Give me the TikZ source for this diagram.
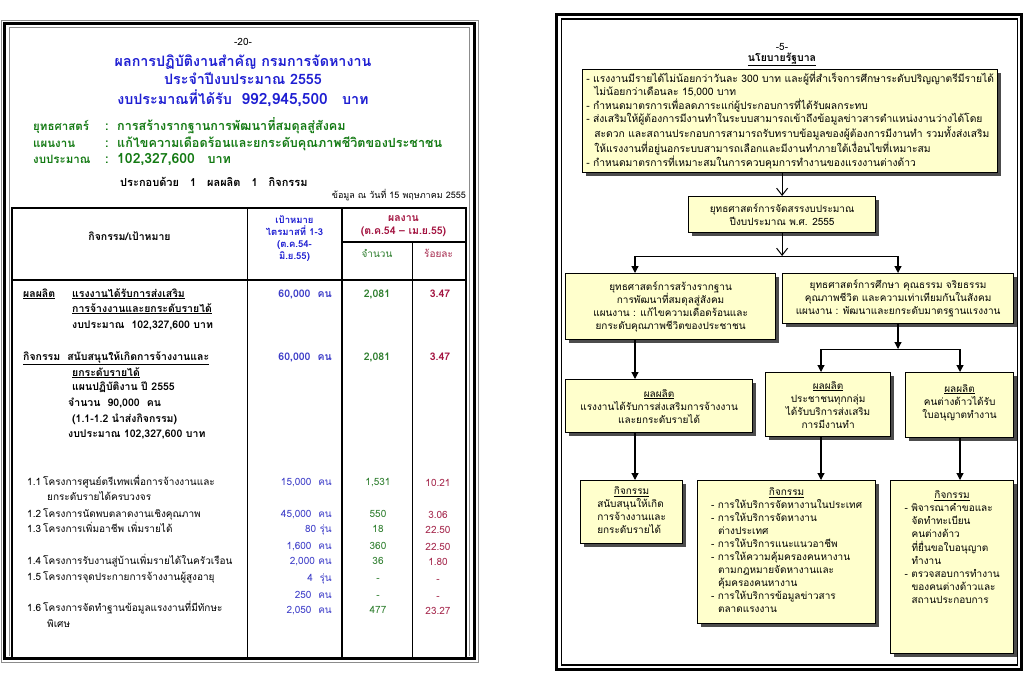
\documentclass[tikz,border=0pt]{standalone}
\usepackage{fontspec}
\setmainfont[Script=Thai]{Loma}
\usepackage{tikz}
\usetikzlibrary{arrows.meta,positioning,shadows,calc}
\definecolor{TtlBlue}{HTML}{1E1ED2}
\definecolor{PlnGreen}{HTML}{137A13}
\definecolor{ResRed}{HTML}{A3123F}
\definecolor{ValBlue}{HTML}{3C3CC8}
\definecolor{ValGreen}{HTML}{2C7D2C}
\definecolor{ValRed}{HTML}{A5274C}
\definecolor{BoxFill}{HTML}{FFFFCC}
\definecolor{FrmGray}{HTML}{8C8C8C}

\begin{document}
\begin{tikzpicture}[x=1pt,y=-1pt,
  txt/.style={inner sep=0pt,anchor=base west,font=\fontsize{10}{13}\selectfont},
  txtb/.style={inner sep=0pt,anchor=base west,font=\fontsize{10.5}{13}\selectfont\bfseries},
  ctr/.style={inner sep=0pt,anchor=base,font=\fontsize{10}{13}\selectfont},
  ctrb/.style={inner sep=0pt,anchor=base,font=\fontsize{10.5}{13}\selectfont\bfseries},
  ttl/.style={inner sep=0pt,anchor=base,font=\fontsize{14.3}{17}\selectfont\bfseries,text=TtlBlue},
  pln/.style={inner sep=0pt,anchor=base west,font=\fontsize{11.5}{14}\selectfont\bfseries,text=PlnGreen},
  plv/.style={pln,font=\fontsize{12.6}{15}\selectfont\bfseries},
  bx/.style={draw,line width=1.2pt,fill=BoxFill,inner sep=0pt,anchor=north west,align=center,
    font=\fontsize{10}{13}\selectfont,
    drop shadow={shadow xshift=3pt,shadow yshift=-3pt,fill=black!70,opacity=1}},
  arr/.style={-{Triangle[length=7pt,width=7pt]},line width=1.2pt},
  oarr/.style={-{Straight Barb[length=7pt,width=11pt]},line width=1pt},
  hline/.style={line width=0.8pt}]
\useasboundingbox (0,0) rectangle (1024,680);
\fill[white] (0,0) rectangle (1024,680);

% ---- left page: frame and table
\draw[FrmGray,line width=1pt] (1.5,20.5) rectangle (478.5,662);
\draw[line width=3pt] (4.5,23.5) rectangle (474,658.5);
\draw[FrmGray,line width=0.8pt] (9,656) -- (9,27) -- (469.5,27) -- (469.5,656);
\draw[line width=2pt] (11.5,208) rectangle (465.5,658);
\draw[line width=1.6pt] (247.5,208) -- (247.5,658) (342,208) -- (342,658) (412.5,242) -- (412.5,658);
\draw[line width=1.6pt] (11.5,280) -- (465.5,280) (342,242) -- (465.5,242);

\node[ctr] (pgno) at (243,45) {-20-};
\node[ttl] (ttl1) at (243,66) {ผลการปฏิบัติงานสำคัญ กรมการจัดหางาน};
\node[ttl] (ttl2) at (243,84) {ประจำปีงบประมาณ 2555};
\node[ttl] (ttl3) at (243,104) {งบประมาณที่ได้รับ\ \ {\fontsize{15.5}{18}\selectfont 992,945,500}\quad บาท};

\node[pln] (stl) at (33,130) {ยุทธศาสตร์};
\node[plv] (stc) at (105,130) {:\ \ การสร้างรากฐานการพัฒนาที่สมดุลสู่สังคม};
\node[pln] (pll) at (33,147) {แผนงาน};
\node[plv] (plc) at (105,147) {:\ \ แก้ไขความเดือดร้อนและยกระดับคุณภาพชีวิตของประชาชน};
\node[pln] (bgl) at (33,163) {งบประมาณ};
\node[plv] (bgc) at (105,163) {:\ \ {\fontsize{14}{16}\selectfont 102,327,600}\quad บาท};
\node[txtb,font=\fontsize{11}{13}\selectfont\bfseries] (cmp) at (120,186) {ประกอบด้วย\quad 1\quad ผลผลิต\quad 1\quad กิจกรรม};
\node[txt,anchor=base east,font=\fontsize{9}{10}\selectfont] (asof) at (466,198) {ข้อมูล ณ วันที่ 15 พฤษภาคม 2555};

% table header
\node[ctrb] (h1) at (129.5,240) {กิจกรรม/เป้าหมาย};
\node[inner sep=0pt,align=center,font=\fontsize{9.5}{12}\selectfont\bfseries,text=TtlBlue] (h2) at (294.5,239) {เป้าหมาย\\ไตรมาสที่ 1-3\\(ต.ค.54-\\มิ.ย.55)};
\node[inner sep=0pt,align=center,font=\fontsize{10.5}{12.5}\selectfont\bfseries,text=ResRed] (h3) at (403.5,226) {ผลงาน\\(ต.ค.54 – เม.ย.55)};
\node[ctr,text=ValGreen] (h3a) at (377,257) {จำนวน};
\node[ctr,text=ValRed] (h3b) at (438.5,257) {ร้อยละ};

% output and activity
\node[txtb] (o1) at (23,297) {\makebox[49pt][l]{\underline{ผลผลิต}}\underline{แรงงานได้รับการส่งเสริม}};
\node[txtb] (o2) at (72,312) {\underline{การจ้างงานและยกระดับรายได้}};
\node[txtb] (o3) at (72,328) {งบประมาณ\ \ 102,327,600 บาท};
\node[txtb] (k1) at (23,360) {\underline{กิจกรรม\ \ สนับสนุนให้เกิดการจ้างงานและ}};
\node[txtb] (k2) at (72,376) {\underline{ยกระดับรายได้}};
\node[txtb] (k3) at (72,390) {แผนปฏิบัติงาน ปี 2555};
\node[txtb] (k4) at (68,406) {จำนวน\ \ 90,000\ \ คน};
\node[txtb] (k5) at (72,422) {(1.1-1.2 นำส่งกิจกรรม)};
\node[txtb] (k6) at (68,437) {งบประมาณ 102,327,600 บาท};
\foreach \yy [count=\i] in {297,360}{
  \node[txtb,anchor=base east,text=ValBlue] (tg\i) at (332,\yy) {60,000\ \ คน};
  \node[ctrb,text=ValGreen] (nm\i) at (377,\yy) {2,081};
  \node[ctrb,text=ResRed] (pc\i) at (440,\yy) {3.47};
}

% projects 1.1 - 1.6
\node[txt] (p1) at (27,485) {\makebox[16pt][l]{1.1}โครงการศูนย์ตรีเทพเพื่อการจ้างงานและ};
\node[txt] (p1b) at (47,500) {ยกระดับรายได้ครบวงจร};
\node[txt] (p2) at (27,517) {\makebox[16pt][l]{1.2}โครงการนัดพบตลาดงานเชิงคุณภาพ};
\node[txt] (p3) at (27,532) {\makebox[16pt][l]{1.3}โครงการเพิ่มอาชีพ เพิ่มรายได้};
\node[txt] (p4) at (27,564) {\makebox[16pt][l]{1.4}โครงการรับงานสู่บ้านเพิ่มรายได้ในครัวเรือน};
\node[txt] (p5) at (27,580) {\makebox[16pt][l]{1.5}โครงการจุดประกายการจ้างงานผู้สูงอายุ};
\node[txt] (p6) at (27,611) {\makebox[16pt][l]{1.6}โครงการจัดทำฐานข้อมูลแรงงานที่มีทักษะ};
\node[txt] (p6b) at (47,627) {พิเศษ};
\foreach \yy/\tg/\nm/\pc [count=\i] in {485/{15,000\ \ คน}/{1,531}/10.21, 517/{45,000\ \ คน}/550/3.06,
  532/{80 รุ่น}/18/22.50, 549/{1,600\ \ คน}/360/22.50, 564/{2,000 คน}/36/1.80,
  581/{4\ \ รุ่น}/-/-, 598/{250\ \ คน}/-/-, 613/{2,050\ \ คน}/477/23.27}{
  \node[txt,anchor=base east,text=ValBlue] (vt\i) at (332,\yy) {\tg};
  \node[ctr,text=ValGreen] (vn\i) at (378,\yy) {\nm};
  \node[ctr,text=ValRed] (vp\i) at (438,\yy+1) {\pc};
}

% ---- right page: frame and chart
\draw[line width=3pt] (556.5,14.5) rectangle (1021,669.5);
\draw[line width=1.5pt] (561.5,19) rectangle (1017.5,665);
\node[ctr] (pg5) at (782,50) {-5-};
\node[ctrb] (gov) at (782,61) {\underline{นโยบายรัฐบาล}};

\node[bx,minimum width=415pt,minimum height=103pt,font=\fontsize{10.3}{12.8}\selectfont] (pol) at (582,69) {\begin{tabular}{@{}l@{}}
- แรงงานมีรายได้ไม่น้อยกว่าวันละ 300 บาท และผู้ที่สำเร็จการศึกษาระดับปริญญาตรีมีรายได้\\
\hspace{8pt}ไม่น้อยกว่าเดือนละ 15,000 บาท\\
- กำหนดมาตรการเพื่อลดภาระแก่ผู้ประกอบการที่ได้รับผลกระทบ\\
- ส่งเสริมให้ผู้ต้องการมีงานทำในระบบสามารถเข้าถึงข้อมูลข่าวสารตำแหน่งงานว่างได้โดย\\
\hspace{8pt}สะดวก และสถานประกอบการสามารถรับทราบข้อมูลของผู้ต้องการมีงานทำ รวมทั้งส่งเสริม\\
\hspace{8pt}ให้แรงงานที่อยู่นอกระบบสามารถเลือกและมีงานทำภายใต้เงื่อนไขที่เหมาะสม\\
- กำหนดมาตรการที่เหมาะสมในการควบคุมการทำงานของแรงงานต่างด้าว\end{tabular}};
\node[bx,minimum width=187pt,minimum height=36pt] (alloc) at (688,196) {ยุทธศาสตร์การจัดสรรงบประมาณ\\ปีงบประมาณ พ.ศ. 2555};
\node[bx,minimum width=210pt,minimum height=66pt] (strA) at (565,273) {ยุทธศาสตร์การสร้างรากฐาน\\การพัฒนาที่สมดุลสู่สังคม\\แผนงาน : แก้ไขความเดือดร้อนและ\\ยกระดับคุณภาพชีวิตของประชาชน};
\node[bx,minimum width=231pt,minimum height=50pt] (strB) at (782,273) {ยุทธศาสตร์การศึกษา คุณธรรม จริยธรรม\\คุณภาพชีวิต และความเท่าเทียมกันในสังคม\\แผนงาน : พัฒนาและยกระดับมาตรฐานแรงงาน};
\node[bx,minimum width=187pt,minimum height=53pt] (outA) at (565,379) {\underline{ผลผลิต}\\แรงงานได้รับการส่งเสริมการจ้างงาน\\และยกระดับรายได้};
\node[bx,minimum width=125pt,minimum height=64pt] (outB) at (765,372) {\underline{ผลผลิต}\\ประชาชนทุกกลุ่ม\\ได้รับบริการส่งเสริม\\การมีงานทำ};
\node[bx,minimum width=108pt,minimum height=65pt] (outC) at (905,372) {\underline{ผลผลิต}\\คนต่างด้าวได้รับ\\ใบอนุญาตทำงาน\rule[-8pt]{0pt}{1pt}};
\node[bx,minimum width=102pt,minimum height=63pt] (actA) at (580,480) {\underline{กิจกรรม}\\\begin{tabular}[t]{@{}l@{}}สนับสนุนให้เกิด\\การจ้างงานและ\\ยกระดับรายได้\end{tabular}};
\node[bx,minimum width=178pt,minimum height=143pt] (actB) at (697,480) {\underline{กิจกรรม}\\\begin{tabular}[t]{@{}l@{}}
- การให้บริการจัดหางานในประเทศ\\
- การให้บริการจัดหางาน\\
\hspace{7pt}ต่างประเทศ\\
- การให้บริการแนะแนวอาชีพ\\
- การให้ความคุ้มครองคนหางาน\\
\hspace{7pt}ตามกฎหมายจัดหางานและ\\
\hspace{7pt}คุ้มครองคนหางาน\\
- การให้บริการข้อมูลข่าวสาร\\
\hspace{7pt}ตลาดแรงงาน\end{tabular}};
\node[bx,minimum width=123pt,minimum height=173pt] (actC) at (890,480) {\underline{กิจกรรม}\\\begin{tabular}[t]{@{}l@{}}
- พิจารณาคำขอและ\\
\hspace{7pt}จัดทำทะเบียน\\
\hspace{7pt}คนต่างด้าว\\
\hspace{7pt}ที่ยื่นขอใบอนุญาต\\
\hspace{7pt}ทำงาน\\
- ตรวจสอบการทำงาน\\
\hspace{7pt}ของคนต่างด้าวและ\\
\hspace{7pt}สถานประกอบการ\rule[-40pt]{0pt}{1pt}\end{tabular}};

% connectors
\coordinate (s1) at (alloc.south |- 0,256);
\coordinate (s1L) at (635,256);
\coordinate (s1R) at (898,256);
\coordinate (s2) at (898,349);
\coordinate (s2L) at (821,349);
\coordinate (s2R) at (960,349);
\draw[oarr] (alloc.north |- pol.south) -- (alloc.north);
\draw[oarr] (alloc.south) -- (s1);
\draw[hline] (s1L) -- (s1R) (s2L) -- (s2R);
\draw[arr] (s1L) -- (s1L |- strA.north);
\draw[arr] (s1R) -- (s1R |- strB.north);
\draw[arr] (s1R |- strB.south) -- (s2);
\draw[arr] (s2L) -- (s2L |- outB.north);
\draw[arr] (s2R) -- (s2R |- outC.north);
\draw[arr] (s1L |- strA.south) -- (s1L |- outA.north);
\draw[arr] (s1L |- outA.south) -- (s1L |- actA.north);
\draw[arr] (s2L |- outB.south) -- (s2L |- actB.north);
\draw[arr] (s2R |- outC.south) -- (s2R |- actC.north);
\end{tikzpicture}
\end{document}
